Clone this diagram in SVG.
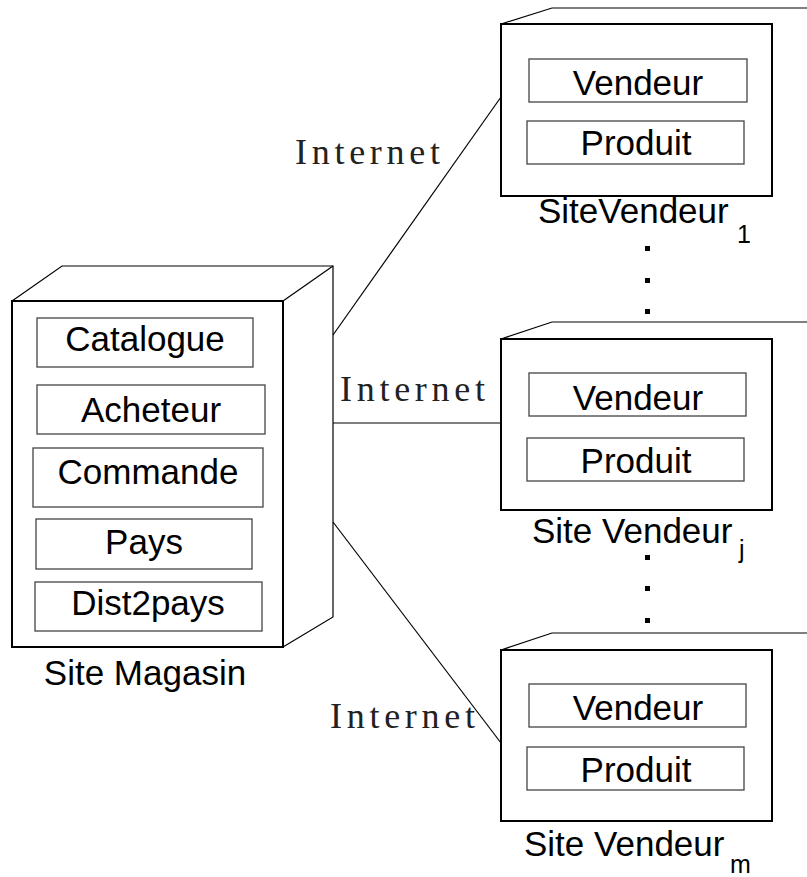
<svg xmlns="http://www.w3.org/2000/svg" width="807" height="877" viewBox="0 0 807 877">
<style>
.front{fill:none;stroke:#000;stroke-width:2}
.back{fill:none;stroke:#000;stroke-width:1.2}
.inner{fill:none;stroke:#444;stroke-width:1.3}
.lbl{font-family:"Liberation Sans",Arial,sans-serif;font-size:35px;fill:#000;text-anchor:middle}
.cap{font-family:"Liberation Sans",Arial,sans-serif;font-size:35px;fill:#000}
.sub{font-family:"Liberation Sans",Arial,sans-serif;font-size:25px;fill:#000}
.net{font-family:"Liberation Serif","Times New Roman",serif;font-size:36px;fill:#222}
.conn{stroke:#000;stroke-width:1.2;fill:none}
.dot{fill:#000}
</style>
<rect width="807" height="877" fill="#fff"/>
<g id="connectors">
<line class="conn" x1="333" y1="335" x2="501" y2="97"/>
<line class="conn" x1="333" y1="423" x2="501" y2="423"/>
<line class="conn" x1="333" y1="522" x2="501" y2="743"/>
<text class="net" x="295" y="164" textLength="145" lengthAdjust="spacing">Internet</text>
<text class="net" x="340" y="401" textLength="145" lengthAdjust="spacing">Internet</text>
<text class="net" x="330" y="728" textLength="145" lengthAdjust="spacing">Internet</text>
</g>
<g id="site-magasin">
<polyline class="back" points="12,301 62,266 333,266 333,617 283,647"/>
<line class="back" x1="283" y1="301" x2="333" y2="266"/>
<rect class="front" x="12" y="301" width="271" height="346"/>
<rect class="inner" x="37" y="318" width="216" height="49"/>
<text class="lbl" x="145" y="351">Catalogue</text>
<rect class="inner" x="37" y="385" width="228" height="49"/>
<text class="lbl" x="151" y="422">Acheteur</text>
<rect class="inner" x="33" y="448" width="230" height="59"/>
<text class="lbl" x="148" y="484">Commande</text>
<rect class="inner" x="36" y="519" width="216" height="50"/>
<text class="lbl" x="144" y="554">Pays</text>
<rect class="inner" x="35" y="582" width="227" height="49"/>
<text class="lbl" x="148" y="615">Dist2pays</text>
<text class="lbl" x="145" y="685">Site Magasin</text>
</g>
<g id="site-vendeur-1">
<polyline class="back" points="501,24 552,8 807,8"/>
<rect class="front" x="501" y="24" width="271" height="172"/>
<rect class="inner" x="529" y="59" width="218" height="43"/>
<text class="lbl" x="638" y="95">Vendeur</text>
<rect class="inner" x="527" y="121" width="217" height="43"/>
<text class="lbl" x="636" y="155">Produit</text>
<text class="cap" x="538" y="223">SiteVendeur</text>
<text class="sub" x="737" y="243">1</text>
</g>
<g id="dots-1">
<rect class="dot" x="645" y="246" width="5" height="5"/>
<rect class="dot" x="645" y="278" width="5" height="5"/>
<rect class="dot" x="645" y="309" width="5" height="5"/>
</g>
<g id="site-vendeur-j">
<polyline class="back" points="501,339 552,322 807,322"/>
<rect class="front" x="501" y="339" width="271" height="171"/>
<rect class="inner" x="529" y="373" width="217" height="43"/>
<text class="lbl" x="638" y="410">Vendeur</text>
<rect class="inner" x="527" y="438" width="217" height="43"/>
<text class="lbl" x="636" y="473">Produit</text>
<text class="cap" x="532" y="543">Site Vendeur</text>
<text class="sub" x="739" y="558">j</text>
</g>
<g id="dots-2">
<rect class="dot" x="645" y="555" width="5" height="5"/>
<rect class="dot" x="645" y="586" width="5" height="5"/>
<rect class="dot" x="645" y="618" width="5" height="5"/>
</g>
<g id="site-vendeur-m">
<polyline class="back" points="501,650 552,633 807,633"/>
<rect class="front" x="501" y="650" width="271" height="171"/>
<rect class="inner" x="529" y="684" width="217" height="43"/>
<text class="lbl" x="638" y="720">Vendeur</text>
<rect class="inner" x="527" y="747" width="217" height="43"/>
<text class="lbl" x="636" y="782">Produit</text>
<text class="cap" x="524" y="856">Site Vendeur</text>
<text class="sub" x="730" y="873">m</text>
</g>
</svg>
